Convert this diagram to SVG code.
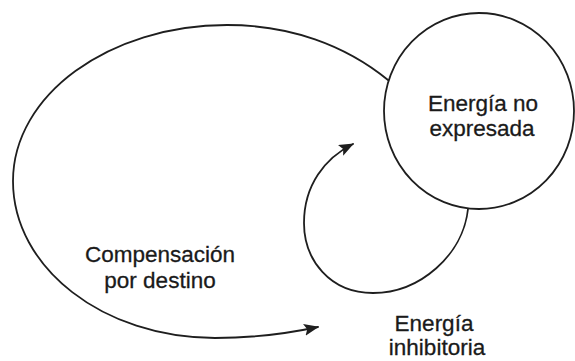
<svg xmlns="http://www.w3.org/2000/svg" width="575" height="361" viewBox="0 0 575 361">
  <style>
    .line { fill: none; stroke: #1e1e1e; stroke-width: 1.8; stroke-linecap: round; }
    .node { fill: #ffffff; stroke: #1e1e1e; stroke-width: 1.8; }
    .label { font-family: "Liberation Sans", Arial, sans-serif; font-size: 22.5px; fill: #1a1a1a; text-anchor: middle; stroke: #1a1a1a; stroke-width: 0.3; }
  </style>
  <defs>
    <marker id="arrow" markerUnits="userSpaceOnUse" markerWidth="16" markerHeight="14" refX="14" refY="6" orient="auto">
      <path d="M0,0 L15,6 L0,12 L3,6 z" fill="#1e1e1e"/>
    </marker>
  </defs>
  <rect width="575" height="361" fill="#ffffff"/>
  <g id="connectors">
    <path id="compensacion" class="line" marker-end="url(#arrow)"
      d="M 388 80 C 345 45 290 25 227 25 C 109 25 13 95 13 181 C 13 268 103.5 338 215 338 C 250 338 290 333 318 327"/>
    <path id="inhibitoria-loop" class="line" marker-end="url(#arrow)"
      d="M 468 209 C 463 255 420 293 373 293 C 330 293 304 260 304 223 C 304 185 325 158 353 144"/>
  </g>
  <g id="node-energia-no-expresada">
    <ellipse class="node" cx="479" cy="111" rx="95" ry="98"/>
    <text class="label" x="483" y="111">Energía no</text>
    <text class="label" x="482" y="136">expresada</text>
  </g>
  <g id="label-compensacion">
    <text class="label" x="160" y="262">Compensación</text>
    <text class="label" x="160" y="288">por destino</text>
  </g>
  <g id="label-energia-inhibitoria">
    <text class="label" x="434" y="331">Energía</text>
    <text class="label" x="437" y="355">inhibitoria</text>
  </g>
</svg>
